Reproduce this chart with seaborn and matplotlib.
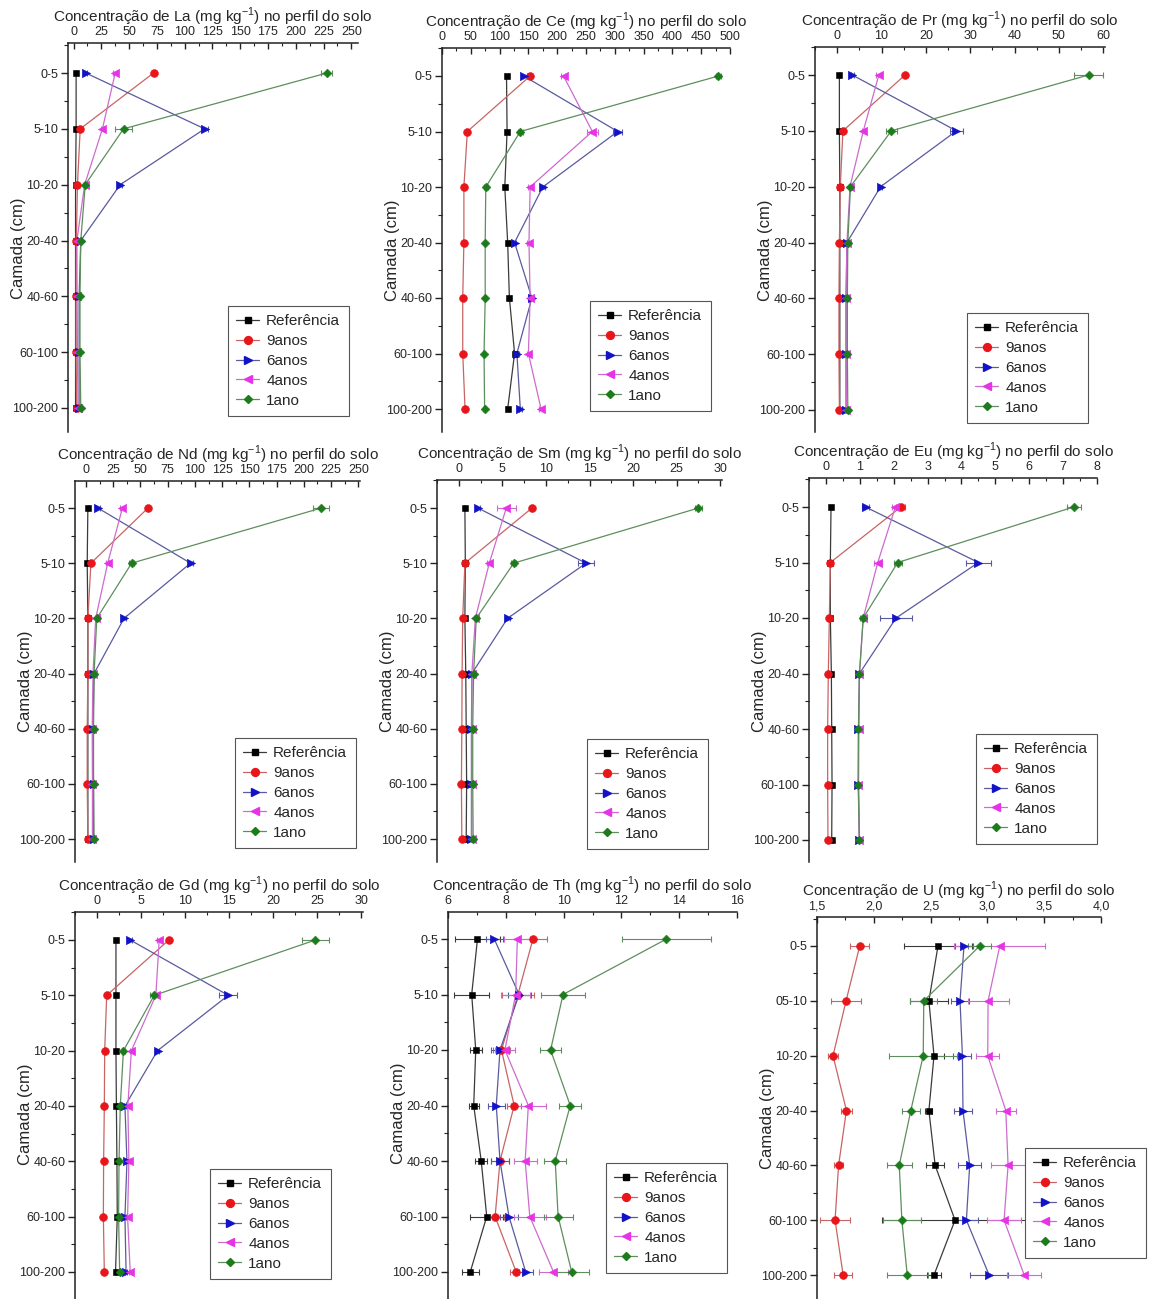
import numpy as np
import matplotlib
matplotlib.use('Agg')
import matplotlib.pyplot as plt
from matplotlib.ticker import MultipleLocator, FuncFormatter
from matplotlib.lines import Line2D
import seaborn as sns

sns.set_style('white')
plt.rcParams['font.family'] = ['Liberation Sans', 'DejaVu Sans']
plt.rcParams['mathtext.fontset'] = 'custom'
plt.rcParams['mathtext.rm'] = 'Liberation Sans'

# camadas do solo
camadas = ['0-5', '5-10', '10-20', '20-40', '40-60', '60-100', '100-200']
camadas_u = ['0-5', '05-10', '10-20', '20-40', '40-60', '60-100', '100-200']
series = ['Referência', '9anos', '6anos', '4anos', '1ano']

# concentracoes (mg/kg)
la = {'Referência': [2.3, 2.3, 1.8, 1.8, 1.8, 1.8, 1.8],
      '9anos': [72, 6.0, 3.5, 2.5, 2.3, 2.3, 2.8],
      '6anos': [11, 118, 42, 6.5, 5, 5, 5],
      '4anos': [37.5, 26, 10, 3.0, 3.2, 3.5, 4],
      '1ano': [228, 45, 10.5, 6.5, 5.8, 5.8, 6.5]}
la_err = {'Referência': [0.3] * 7, '9anos': [1.5, 0.5, 0.3, 0.2, 0.2, 0.2, 0.2],
          '6anos': [1.5, 3, 2, 0.5, 0.3, 0.3, 0.3], '4anos': [2, 1.5, 0.8, 0.3, 0.3, 0.3, 0.3],
          '1ano': [5, 8, 1, 0.5, 0.4, 0.4, 0.4]}

ce = {'Referência': [112, 113, 109, 114, 117, 126, 114],
      '9anos': [153, 44, 38, 38, 36, 36, 40],
      '6anos': [142, 305, 175, 126, 156, 130, 136],
      '4anos': [211, 261, 153, 151, 153, 150, 172],
      '1ano': [480, 136, 76, 75, 75, 73, 74]}
ce_err = {'Referência': [3] * 7, '9anos': [3] * 7, '6anos': [5, 8, 4, 3, 4, 4, 3],
          '4anos': [5, 9, 4, 3, 4, 3, 4], '1ano': [5, 4, 3, 2, 2, 2, 2]}

pr = {'Referência': [0.5, 0.5, 0.6, 0.6, 0.6, 0.6, 0.6],
      '9anos': [15.3, 1.3, 0.7, 0.5, 0.4, 0.4, 0.5],
      '6anos': [3.4, 26.9, 9.8, 2.2, 2.0, 2.0, 2.0],
      '4anos': [9.4, 5.9, 2.9, 2.2, 2.0, 2.0, 2.1],
      '1ano': [56.7, 12.2, 3.0, 2.4, 2.3, 2.3, 2.4]}
pr_err = {'Referência': [0.1] * 7, '9anos': [0.3, 0.2, 0.1, 0.1, 0.1, 0.1, 0.1],
          '6anos': [0.3, 1.5, 0.4, 0.1, 0.1, 0.1, 0.1], '4anos': [0.7, 0.3, 0.2, 0.1, 0.1, 0.1, 0.1],
          '1ano': [3.2, 1.3, 0.3, 0.1, 0.1, 0.1, 0.1]}

nd = {'Referência': [1.8, 1.2, 1.8, 1.8, 1.8, 1.8, 1.8],
      '9anos': [57, 4.6, 1.8, 1.8, 1.2, 1.2, 1.8],
      '6anos': [11, 96, 35, 7.5, 6.5, 7, 7],
      '4anos': [33.5, 20, 9, 6.5, 5.8, 6, 6],
      '1ano': [216, 42, 10, 7.5, 7, 7, 7.5]}
nd_err = {'Referência': [0.3] * 7, '9anos': [1.5, 0.5, 0.3, 0.3, 0.3, 0.3, 0.3],
          '6anos': [1.5, 2.5, 1.5, 0.5, 0.5, 0.5, 0.5], '4anos': [2, 1.5, 0.8, 0.5, 0.5, 0.5, 0.5],
          '1ano': [7.5, 2, 1, 0.5, 0.5, 0.5, 0.5]}

sm = {'Referência': [0.7, 0.75, 0.7, 0.8, 0.85, 0.9, 0.85],
      '9anos': [8.4, 0.7, 0.45, 0.38, 0.35, 0.3, 0.35],
      '6anos': [2.2, 14.6, 5.6, 1.5, 1.45, 1.45, 1.45],
      '4anos': [5.45, 3.5, 1.9, 1.5, 1.5, 1.5, 1.5],
      '1ano': [27.5, 6.3, 2.0, 1.7, 1.6, 1.6, 1.65]}
sm_err = {'Referência': [0.05] * 7, '9anos': [0.2, 0.1, 0.05, 0.05, 0.05, 0.05, 0.05],
          '6anos': [0.2, 0.95, 0.3, 0.1, 0.1, 0.1, 0.1], '4anos': [1.1, 0.3, 0.15, 0.1, 0.1, 0.1, 0.1],
          '1ano': [0.4, 0.3, 0.15, 0.1, 0.1, 0.1, 0.1]}

eu = {'Referência': [0.15, 0.13, 0.13, 0.16, 0.17, 0.18, 0.17],
      '9anos': [2.21, 0.13, 0.10, 0.07, 0.05, 0.05, 0.06],
      '6anos': [1.17, 4.5, 2.07, 0.99, 0.96, 0.96, 0.99],
      '4anos': [2.05, 1.53, 1.1, 0.99, 0.97, 0.96, 0.98],
      '1ano': [7.31, 2.12, 1.1, 0.99, 0.96, 0.95, 0.99]}
eu_err = {'Referência': [0.02] * 7, '9anos': [0.13, 0.05, 0.03, 0.03, 0.03, 0.03, 0.03],
          '6anos': [0.1, 0.36, 0.47, 0.05, 0.05, 0.05, 0.05], '4anos': [0.1, 0.12, 0.05, 0.04, 0.04, 0.04, 0.04],
          '1ano': [0.21, 0.12, 0.1, 0.05, 0.05, 0.05, 0.05]}

gd = {'Referência': [2.15, 2.15, 2.15, 2.2, 2.26, 2.3, 2.1],
      '9anos': [8.15, 1.1, 0.87, 0.83, 0.75, 0.72, 0.83],
      '6anos': [3.77, 14.9, 6.87, 3.17, 3.4, 3.17, 3.3],
      '4anos': [7.06, 6.68, 3.9, 3.5, 3.62, 3.47, 3.77],
      '1ano': [24.8, 6.5, 3.0, 2.64, 2.5, 2.45, 2.57]}
gd_err = {'Referência': [0.1] * 7, '9anos': [0.2, 0.1, 0.05, 0.05, 0.05, 0.05, 0.05],
          '6anos': [0.2, 1.0, 0.2, 0.15, 0.15, 0.15, 0.15], '4anos': [0.3, 0.3, 0.2, 0.15, 0.15, 0.15, 0.15],
          '1ano': [1.5, 0.5, 0.15, 0.1, 0.1, 0.1, 0.1]}

th = {'Referência': [7.02, 6.82, 6.96, 6.89, 7.15, 7.34, 6.77],
      '9anos': [8.94, 8.42, 7.85, 8.29, 7.8, 7.63, 8.36],
      '6anos': [7.6, 8.46, 7.8, 7.67, 7.8, 8.11, 8.69],
      '4anos': [8.4, 8.34, 7.97, 8.78, 8.67, 8.83, 9.65],
      '1ano': [13.56, 9.98, 9.55, 10.23, 9.71, 9.81, 10.28]}
th_err = {'Referência': [0.78, 0.6, 0.2, 0.18, 0.2, 0.58, 0.3],
          '9anos': [0.5, 0.55, 0.3, 0.25, 0.3, 0.3, 0.2],
          '6anos': [0.3, 0.4, 0.3, 0.3, 0.3, 0.3, 0.25],
          '4anos': [0.45, 0.5, 0.35, 0.6, 0.4, 0.55, 0.5],
          '1ano': [1.55, 0.76, 0.36, 0.38, 0.39, 0.5, 0.6]}

u = {'Referência': [2.565, 2.485, 2.53, 2.485, 2.54, 2.715, 2.53],
     '9anos': [1.876, 1.756, 1.641, 1.759, 1.69, 1.659, 1.73],
     '6anos': [2.794, 2.759, 2.78, 2.785, 2.844, 2.815, 3.015],
     '4anos': [3.109, 3.006, 3.003, 3.162, 3.182, 3.147, 3.324],
     '1ano': [2.932, 2.44, 2.435, 2.326, 2.224, 2.247, 2.294]}
u_err = {'Referência': [0.3, 0.17, 0.09, 0.03, 0.08, 0.64, 0.06],
         '9anos': [0.085, 0.13, 0.04, 0.05, 0.04, 0.13, 0.08],
         '6anos': [0.08, 0.08, 0.08, 0.08, 0.1, 0.1, 0.17],
         '4anos': [0.4, 0.18, 0.1, 0.09, 0.15, 0.15, 0.15],
         '1ano': [0.1, 0.12, 0.3, 0.08, 0.11, 0.17, 0.18]}

cores = {'Referência': '#000000', '9anos': '#e8161b', '6anos': '#1212c8',
         '4anos': '#e633e6', '1ano': '#1c7c1c'}
cores_linha = {'Referência': '#3a3a3a', '9anos': '#c86464', '6anos': '#5a5a9e',
               '4anos': '#cc6ccc', '1ano': '#5e8e5e'}
marcadores = {'Referência': 's', '9anos': 'o', '6anos': '>', '4anos': '<', '1ano': 'D'}
tam = {'Referência': 22, '9anos': 32, '6anos': 36, '4anos': 36, '1ano': 20}

W, H = 1149, 1299
fig = plt.figure(figsize=(W / 100, H / 100), dpi=100)

# (elemento, dados, erros, [esq, dir, topo, y 0-5, y 100-200, base], xlim, maior, menor, legenda, rotulos)
paineis = [
    ('La', la, la_err, [68, 358, 43, 73, 408, 432], (-5, 256), 25, 12.5, (228, 306), camadas),
    ('Ce', ce, ce_err, [442, 730, 48, 76, 409, 432], (0, 500), 50, 25, (590, 301), camadas),
    ('Pr', pr, pr_err, [815, 1105, 47, 75, 410, 432], (-5, 60.4), 10, 5, (967, 313), camadas),
    ('Nd', nd, nd_err, [75, 360, 481, 508, 839, 862], (-10, 251.5), 25, 12.5, (235, 738), camadas),
    ('Sm', sm, sm_err, [437, 722, 480, 508, 839, 862], (-2.5, 30.2), 5, 2.5, (587, 739), camadas),
    ('Eu', eu, eu_err, [809, 1097, 478, 507, 840, 862], (-0.5, 8.0), 1, 0.5, (976, 734), camadas),
    ('Gd', gd, gd_err, [75, 363, 912, 940, 1272, 1299], (-2.5, 30.2), 5, 2.5, (210, 1169), camadas),
    ('Th', th, th_err, [448, 737, 912, 939, 1272, 1299], (6, 16), 2, 1, (606, 1163), camadas),
    ('U', u, u_err, [817, 1101, 917, 946, 1275, 1299], (1.5, 4.0), 0.5, 0.25, (1025, 1148), camadas_u),
]

ypos = np.arange(7)

for el, dados, erros, box, xlim, maj, mnr, leg, rot in paineis:
    l, r, t, y0, y6, b = box
    ax = fig.add_axes([l / W, 1 - b / H, (r - l) / W, (b - t) / H])
    sp = (y6 - y0) / 6
    ax.set_ylim(6 + (b - y6) / sp, -(y0 - t) / sp)
    ax.set_xlim(*xlim)

    for s in series:
        v = dados[s]
        sns.lineplot(x=v, y=ypos, orient='y', sort=False, color=cores_linha[s], lw=0.9,
                     errorbar=None, legend=False, ax=ax)
        ax.errorbar(v, ypos, xerr=erros[s], fmt='none', ecolor=cores_linha[s],
                    elinewidth=0.8, capsize=2.5, capthick=0.8, zorder=2)
        sns.scatterplot(x=v, y=ypos, marker=marcadores[s], s=tam[s], color=cores[s],
                        edgecolor=cores[s], linewidth=0.4, legend=False, ax=ax, zorder=3)

    for sp_name in ['right', 'bottom']:
        ax.spines[sp_name].set_visible(False)
    for sp_name in ['top', 'left']:
        ax.spines[sp_name].set_linewidth(1.1)
        ax.spines[sp_name].set_color('#222222')

    ax.xaxis.tick_top()
    ax.xaxis.set_major_locator(MultipleLocator(maj))
    ax.xaxis.set_minor_locator(MultipleLocator(mnr))
    if el == 'U':
        ax.xaxis.set_major_formatter(FuncFormatter(lambda x, p: f'{x:.1f}'.replace('.', ',')))
    ax.tick_params(axis='x', which='both', direction='in', top=True, bottom=False,
                   labeltop=True, labelbottom=False, labelsize=9, pad=3.5, color='#222222')
    ax.tick_params(axis='x', which='major', length=4, width=1)
    ax.tick_params(axis='x', which='minor', length=2.5, width=0.8)

    ax.set_yticks(ypos)
    ax.set_yticklabels(rot)
    ax.yaxis.set_minor_locator(MultipleLocator(0.5))
    ax.tick_params(axis='y', which='both', direction='out', left=True, right=False,
                   labelsize=9, pad=2, color='#222222')
    ax.tick_params(axis='y', which='major', length=5, width=1)
    ax.tick_params(axis='y', which='minor', length=3, width=0.8)

    ax.xaxis.set_label_position('top')
    ax.set_xlabel(f'Concentração de {el} (mg kg$^{{\\mathregular{{-1}}}}$) no perfil do solo',
                  fontsize=11, labelpad=3)
    ax.set_ylabel('Camada (cm)', fontsize=12)
    yc = (y0 + y6) / 2 + 8
    ax.yaxis.set_label_coords(-42 / (r - l), 1 - (yc - t) / (b - t))

    handles = [Line2D([0], [0], color=cores_linha[s], lw=0.9, marker=marcadores[s],
                      markerfacecolor=cores[s], markeredgecolor=cores[s],
                      markersize=np.sqrt(tam[s]))
               for s in series]
    lg = ax.legend(handles, series, loc='upper left', bbox_to_anchor=(leg[0] / W, 1 - leg[1] / H),
                   bbox_transform=fig.transFigure, borderaxespad=0, fontsize=11,
                   frameon=True, fancybox=False, framealpha=1, edgecolor='#555555',
                   handlelength=1.5, handletextpad=0.45, labelspacing=0.38, borderpad=0.55)
    lg.get_frame().set_linewidth(0.8)

fig.savefig('out.png', dpi=100)
